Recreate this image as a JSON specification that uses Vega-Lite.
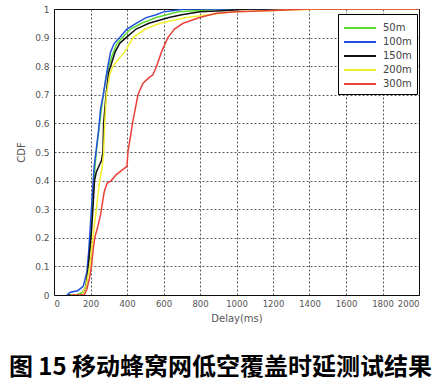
{
  "$schema": "https://vega.github.io/schema/vega-lite/v6.json",
  "width": 365,
  "height": 286,
  "autosize": "none",
  "padding": {"left": 54, "top": 9, "right": 23, "bottom": 96},
  "background": "white",
  "title": {
    "text": "图 15  移动蜂窝网低空覆盖时延测试结果",
    "orient": "bottom",
    "anchor": "middle",
    "dx": -16,
    "offset": 32,
    "font": "Noto Sans CJK SC",
    "fontSize": 24,
    "fontWeight": "bold",
    "color": "#000"
  },
  "config": {
    "view": {"stroke": "#000", "strokeWidth": 1},
    "axis": {
      "labelFont": "DejaVu Sans",
      "labelFontSize": 9,
      "labelColor": "#555",
      "labelOverlap": false,
      "titleFont": "DejaVu Sans",
      "titleFontSize": 10,
      "titleFontWeight": "normal",
      "titleColor": "#555",
      "domain": false,
      "ticks": false,
      "gridColor": "#222",
      "gridDash": [2, 2],
      "gridOpacity": 0.75,
      "gridWidth": 1
    }
  },
  "data": {
    "values": [
      {"s": "50m", "x": 75, "y": 0}, {"s": "50m", "x": 120, "y": 0}, {"s": "50m", "x": 160, "y": 0.01}, {"s": "50m", "x": 175, "y": 0.03}, {"s": "50m", "x": 185, "y": 0.08}, {"s": "50m", "x": 195, "y": 0.15}, {"s": "50m", "x": 205, "y": 0.25}, {"s": "50m", "x": 215, "y": 0.35}, {"s": "50m", "x": 225, "y": 0.45}, {"s": "50m", "x": 235, "y": 0.52}, {"s": "50m", "x": 250, "y": 0.6}, {"s": "50m", "x": 270, "y": 0.7}, {"s": "50m", "x": 285, "y": 0.76}, {"s": "50m", "x": 300, "y": 0.8}, {"s": "50m", "x": 320, "y": 0.84}, {"s": "50m", "x": 345, "y": 0.88}, {"s": "50m", "x": 375, "y": 0.9}, {"s": "50m", "x": 420, "y": 0.93}, {"s": "50m", "x": 480, "y": 0.95}, {"s": "50m", "x": 560, "y": 0.97}, {"s": "50m", "x": 680, "y": 0.99}, {"s": "50m", "x": 800, "y": 0.995}, {"s": "50m", "x": 900, "y": 1}, {"s": "50m", "x": 2000, "y": 1},
      {"s": "100m", "x": 70, "y": 0}, {"s": "100m", "x": 90, "y": 0.01}, {"s": "100m", "x": 130, "y": 0.015}, {"s": "100m", "x": 160, "y": 0.03}, {"s": "100m", "x": 180, "y": 0.08}, {"s": "100m", "x": 190, "y": 0.15}, {"s": "100m", "x": 200, "y": 0.25}, {"s": "100m", "x": 210, "y": 0.35}, {"s": "100m", "x": 220, "y": 0.45}, {"s": "100m", "x": 230, "y": 0.5}, {"s": "100m", "x": 245, "y": 0.58}, {"s": "100m", "x": 255, "y": 0.65}, {"s": "100m", "x": 270, "y": 0.7}, {"s": "100m", "x": 285, "y": 0.76}, {"s": "100m", "x": 295, "y": 0.8}, {"s": "100m", "x": 310, "y": 0.85}, {"s": "100m", "x": 330, "y": 0.88}, {"s": "100m", "x": 360, "y": 0.9}, {"s": "100m", "x": 400, "y": 0.93}, {"s": "100m", "x": 450, "y": 0.95}, {"s": "100m", "x": 505, "y": 0.97}, {"s": "100m", "x": 560, "y": 0.98}, {"s": "100m", "x": 600, "y": 0.99}, {"s": "100m", "x": 720, "y": 1}, {"s": "100m", "x": 2000, "y": 1},
      {"s": "150m", "x": 80, "y": 0}, {"s": "150m", "x": 150, "y": 0}, {"s": "150m", "x": 175, "y": 0.03}, {"s": "150m", "x": 185, "y": 0.08}, {"s": "150m", "x": 195, "y": 0.15}, {"s": "150m", "x": 205, "y": 0.22}, {"s": "150m", "x": 213, "y": 0.3}, {"s": "150m", "x": 222, "y": 0.4}, {"s": "150m", "x": 232, "y": 0.43}, {"s": "150m", "x": 260, "y": 0.47}, {"s": "150m", "x": 268, "y": 0.5}, {"s": "150m", "x": 272, "y": 0.6}, {"s": "150m", "x": 285, "y": 0.7}, {"s": "150m", "x": 300, "y": 0.78}, {"s": "150m", "x": 310, "y": 0.8}, {"s": "150m", "x": 335, "y": 0.85}, {"s": "150m", "x": 360, "y": 0.88}, {"s": "150m", "x": 395, "y": 0.9}, {"s": "150m", "x": 450, "y": 0.93}, {"s": "150m", "x": 520, "y": 0.95}, {"s": "150m", "x": 630, "y": 0.97}, {"s": "150m", "x": 700, "y": 0.98}, {"s": "150m", "x": 800, "y": 0.99}, {"s": "150m", "x": 950, "y": 0.995}, {"s": "150m", "x": 1070, "y": 1}, {"s": "150m", "x": 2000, "y": 1},
      {"s": "200m", "x": 90, "y": 0}, {"s": "200m", "x": 150, "y": 0}, {"s": "200m", "x": 175, "y": 0.03}, {"s": "200m", "x": 190, "y": 0.08}, {"s": "200m", "x": 200, "y": 0.12}, {"s": "200m", "x": 213, "y": 0.2}, {"s": "200m", "x": 232, "y": 0.3}, {"s": "200m", "x": 250, "y": 0.4}, {"s": "200m", "x": 265, "y": 0.45}, {"s": "200m", "x": 272, "y": 0.5}, {"s": "200m", "x": 278, "y": 0.6}, {"s": "200m", "x": 287, "y": 0.7}, {"s": "200m", "x": 305, "y": 0.77}, {"s": "200m", "x": 323, "y": 0.8}, {"s": "200m", "x": 360, "y": 0.83}, {"s": "200m", "x": 388, "y": 0.85}, {"s": "200m", "x": 433, "y": 0.9}, {"s": "200m", "x": 500, "y": 0.93}, {"s": "200m", "x": 580, "y": 0.95}, {"s": "200m", "x": 725, "y": 0.97}, {"s": "200m", "x": 850, "y": 0.98}, {"s": "200m", "x": 980, "y": 0.99}, {"s": "200m", "x": 1200, "y": 0.995}, {"s": "200m", "x": 1470, "y": 1}, {"s": "200m", "x": 2000, "y": 1},
      {"s": "300m", "x": 100, "y": 0}, {"s": "300m", "x": 165, "y": 0}, {"s": "300m", "x": 180, "y": 0.02}, {"s": "300m", "x": 195, "y": 0.06}, {"s": "300m", "x": 205, "y": 0.1}, {"s": "300m", "x": 215, "y": 0.16}, {"s": "300m", "x": 223, "y": 0.2}, {"s": "300m", "x": 240, "y": 0.24}, {"s": "300m", "x": 255, "y": 0.28}, {"s": "300m", "x": 265, "y": 0.32}, {"s": "300m", "x": 275, "y": 0.36}, {"s": "300m", "x": 290, "y": 0.39}, {"s": "300m", "x": 314, "y": 0.4}, {"s": "300m", "x": 340, "y": 0.42}, {"s": "300m", "x": 380, "y": 0.44}, {"s": "300m", "x": 400, "y": 0.45}, {"s": "300m", "x": 405, "y": 0.5}, {"s": "300m", "x": 418, "y": 0.55}, {"s": "300m", "x": 430, "y": 0.6}, {"s": "300m", "x": 445, "y": 0.65}, {"s": "300m", "x": 460, "y": 0.7}, {"s": "300m", "x": 487, "y": 0.74}, {"s": "300m", "x": 520, "y": 0.76}, {"s": "300m", "x": 542, "y": 0.77}, {"s": "300m", "x": 562, "y": 0.8}, {"s": "300m", "x": 589, "y": 0.85}, {"s": "300m", "x": 624, "y": 0.9}, {"s": "300m", "x": 660, "y": 0.93}, {"s": "300m", "x": 707, "y": 0.95}, {"s": "300m", "x": 798, "y": 0.97}, {"s": "300m", "x": 890, "y": 0.985}, {"s": "300m", "x": 1000, "y": 0.99}, {"s": "300m", "x": 1200, "y": 0.995}, {"s": "300m", "x": 1400, "y": 1}, {"s": "300m", "x": 2000, "y": 1}
    ]
  },
  "mark": {"type": "line", "strokeWidth": 1.5, "clip": true},
  "encoding": {
    "x": {
      "field": "x", "type": "quantitative",
      "scale": {"domain": [0, 2000], "nice": false},
      "axis": {"values": [0, 200, 400, 600, 800, 1000, 1200, 1400, 1600, 1800, 2000], "format": "d", "labelFontSize": 8.5, "title": "Delay(ms)", "labelPadding": 4, "titlePadding": 6}
    },
    "y": {
      "field": "y", "type": "quantitative",
      "scale": {"domain": [0, 1], "nice": false},
      "axis": {"values": [0, 0.1, 0.2, 0.3, 0.4, 0.5, 0.6, 0.7, 0.8, 0.9, 1], "format": "~g", "title": "CDF", "labelPadding": 5, "titlePadding": 8}
    },
    "color": {
      "field": "s", "type": "nominal",
      "scale": {"domain": ["50m", "100m", "150m", "200m", "300m"], "range": ["#5ddb2e", "#2050e0", "#111111", "#f2ee30", "#e8413a"]},
      "legend": {
        "title": null,
        "orient": "none",
        "legendX": 284,
        "legendY": 5,
        "symbolType": "M-1,0H3",
        "symbolSize": 256,
        "symbolStrokeWidth": 2,
        "rowPadding": 0,
        "labelFont": "DejaVu Sans",
        "labelFontSize": 10,
        "labelColor": "#444",
        "labelOffset": 22,
        "padding": 5,
        "strokeColor": "#000",
        "fillColor": "white"
      }
    },
    "order": {"field": "s"}
  }
}
